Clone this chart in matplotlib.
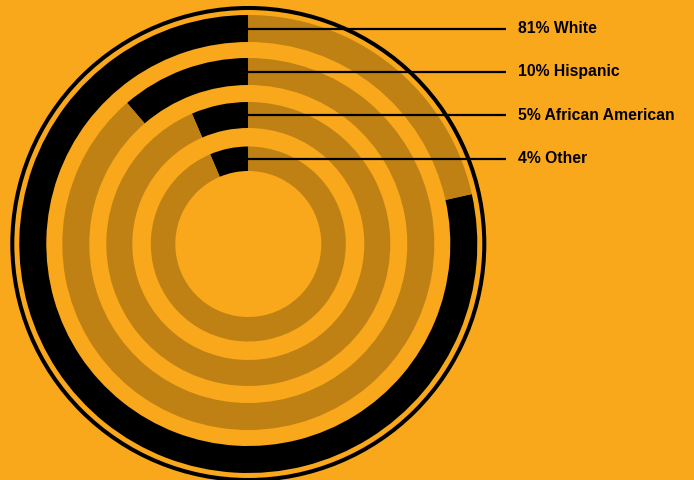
"""Concentric ring chart of ethnic makeup"""

import matplotlib
matplotlib.use("Agg")
import matplotlib.pyplot as plt
from matplotlib.patches import Wedge, Circle

# label values shown on the chart
groups = ["White", "Hispanic", "African American", "Other"]
percents = [81, 10, 5, 4]
# share of each ring drawn in black, as measured on the picture
arc_share = [0.785, 0.113, 0.065, 0.064]

BG = "#F9A71B"
BROWN = "#C08114"

W, H = 694, 480
cx, cy = 248.3, H - 244
ring_outer = [229, 186, 142, 97.5]
ring_width = [27, 27, 26, 24.5]


def draw_chart():
    fig = plt.figure(figsize=(W / 100, H / 100), dpi=100, facecolor=BG)
    ax = fig.add_axes([0, 0, 1, 1])
    ax.set_xlim(0, W)
    ax.set_ylim(0, H)
    ax.set_aspect("equal")
    ax.axis("off")
    ax.set_facecolor(BG)

    # thin outer circle
    ax.add_patch(Circle((cx, cy), 236, fill=False, edgecolor="black", lw=2.9))

    for r, w, share in zip(ring_outer, ring_width, arc_share):
        end = 90 + share * 360
        ax.add_patch(Wedge((cx, cy), r, 90, end, width=w,
                           facecolor="black", lw=0))
        ax.add_patch(Wedge((cx, cy), r, end, 450, width=w,
                           facecolor=BROWN, lw=0))

    for r, w, name, pct in zip(ring_outer, ring_width, groups, percents):
        y = cy + r - w / 2
        ax.plot([cx, 506], [y, y], color="black", lw=1.6, solid_capstyle="butt")
        ax.text(518, y, "{}% {}".format(pct, name), va="center", ha="left",
                fontsize=11.3, fontweight="bold", family="Liberation Sans")

    fig.savefig("out.png", dpi=100, facecolor=BG)


if __name__ == "__main__":
    draw_chart()
